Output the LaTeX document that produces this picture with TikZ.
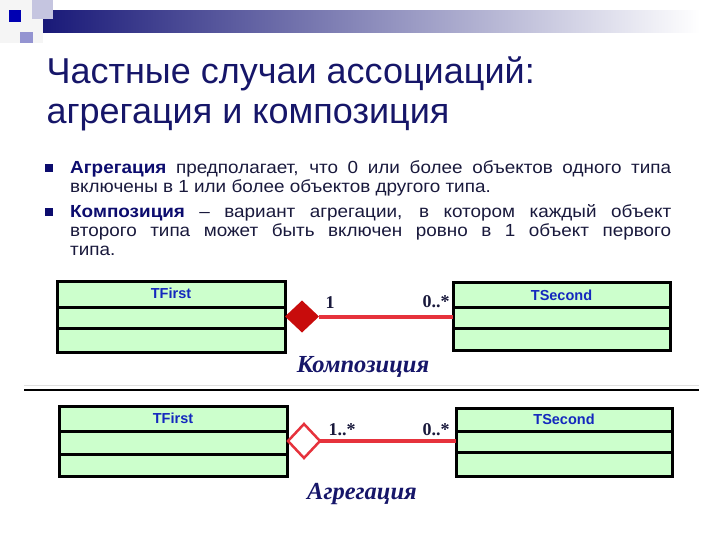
\documentclass[tikz,border=0pt]{standalone}
\usepackage{fontspec}
\setmainfont{Liberation Sans}
\newfontfamily\bodyfont[FakeStretch=1.08]{Liberation Sans}
\newfontfamily\labelfont{Liberation Serif}
\usetikzlibrary{shapes.geometric}
\definecolor{titleblue}{RGB}{22,22,105}
\definecolor{textdark}{RGB}{25,25,60}
\definecolor{boldblue}{RGB}{12,12,110}
\definecolor{boxgreen}{RGB}{204,255,204}
\definecolor{classblue}{RGB}{20,40,190}
\definecolor{linkred}{RGB}{230,50,60}
\definecolor{diamondred}{RGB}{200,12,12}
\definecolor{barnavy}{RGB}{25,25,120}
\begin{document}
\begin{tikzpicture}[x=1pt,y=-1pt,
    classbox/.style={draw=black,line width=3pt,fill=boxgreen,inner sep=0pt,outer sep=0pt},
    classline/.style={black,line width=3pt},
    classname/.style={text=classblue,font=\fontsize{14.5}{16}\selectfont\bfseries},
    link/.style={linkred,line width=4pt},
    mult/.style={text=textdark,font=\labelfont\fontsize{18}{20}\selectfont\bfseries},
    kind/.style={text=titleblue,font=\labelfont\fontsize{24.5}{28}\selectfont\bfseries\itshape},
    bullettext/.style={anchor=north west,inner sep=0pt,text width=601pt,align=justify,
        text=textdark,font=\bodyfont\fontsize{17.5}{19}\selectfont},
    bulletsq/.style={fill=boldblue,minimum size=8pt,inner sep=0pt}]
  \useasboundingbox (0,0) rectangle (720,540);
  % top bar
  \fill[black!4] (0,0) rectangle (43,43);
  \shade[left color=barnavy,right color=white] (43,11) rectangle (700,33);
  \fill[blue!30!gray!35] (32,0) rectangle (53,19);
  \fill[blue!40!gray!60] (20,32) rectangle (33,43);
  \fill[blue!70!black] (9,10) rectangle (21,22);
  % title
  \node[anchor=base west,text=titleblue,font=\fontsize{36}{40}\selectfont] (title1) at (43,84) {Частные случаи ассоциаций:};
  \node[anchor=base west,text=titleblue,font=\fontsize{36}{40}\selectfont] (title2) at (43,124) {агрегация и композиция};
  % bullets
  \node[bulletsq] (b1) at (49,168) {};
  \node[bulletsq] (b2) at (49,212) {};
  \node[bullettext] (text1) at (70,160)
    {\textcolor{boldblue}{\textbf{Агрегация}} предполагает, что 0 или более объектов одного типа\linebreak
     включены в 1 или более объектов другого типа.};
  \node[bullettext] (text2) at (70,204)
    {\textcolor{boldblue}{\textbf{Композиция}} – вариант агрегации, в котором каждый объект\linebreak
     второго типа может быть включен ровно в 1 объект первого\linebreak
     типа.};
  % composition
  \node[classbox,minimum width=228pt,minimum height=71pt] (first1) at (171,316.5) {};
  \node[classbox,minimum width=217pt,minimum height=68pt] (second1) at (561.5,316) {};
  \draw[classline] ([yshift=-26pt]first1.north west) -- ([yshift=-26pt]first1.north east);
  \draw[classline] ([yshift=-47pt]first1.north west) -- ([yshift=-47pt]first1.north east);
  \draw[classline] ([yshift=-25pt]second1.north west) -- ([yshift=-25pt]second1.north east);
  \draw[classline] ([yshift=-46pt]second1.north west) -- ([yshift=-46pt]second1.north east);
  \node[classname] (n1) at ([yshift=-12pt]first1.north) {TFirst};
  \node[classname] (n2) at ([yshift=-13pt]second1.north) {TSecond};
  \node[diamond,fill=diamondred,minimum width=34pt,minimum height=32pt,inner sep=0pt,
        outer sep=0pt,anchor=west] (comp) at (first1.east) {};
  \draw[link] (comp.east) -- (comp.east -| second1.west);
  \node[mult] (m1) at (330,303) {1};
  \node[mult] (m2) at (436,302) {0..*};
  \node[kind] (k1) at (363,367) {Композиция};
  % separator
  \draw[black!12,line width=0.8pt] (24,385) -- (699,385);
  \draw[black,line width=1.2pt] (24,390) -- (699,390);
  % aggregation
  \node[classbox,minimum width=228pt,minimum height=70pt] (first2) at (173,441) {};
  \node[classbox,minimum width=216pt,minimum height=68pt] (second2) at (564,442) {};
  \draw[classline] ([yshift=-25pt]first2.north west) -- ([yshift=-25pt]first2.north east);
  \draw[classline] ([yshift=-48pt]first2.north west) -- ([yshift=-48pt]first2.north east);
  \draw[classline] ([yshift=-23pt]second2.north west) -- ([yshift=-23pt]second2.north east);
  \draw[classline] ([yshift=-44pt]second2.north west) -- ([yshift=-44pt]second2.north east);
  \node[classname] (n3) at ([yshift=-12pt]first2.north) {TFirst};
  \node[classname] (n4) at ([yshift=-11pt]second2.north) {TSecond};
  \node[diamond,draw=linkred,line width=2.5pt,fill=white,minimum width=32pt,minimum height=34pt,
        inner sep=0pt,outer sep=0pt,anchor=west] (aggr) at ([xshift=1pt]first2.east) {};
  \draw[link] (aggr.east) -- (aggr.east -| second2.west);
  \node[mult] (m3) at (342,430) {1..*};
  \node[mult] (m4) at (436,430) {0..*};
  \node[kind] (k2) at (362,494) {Агрегация};
\end{tikzpicture}
\end{document}
